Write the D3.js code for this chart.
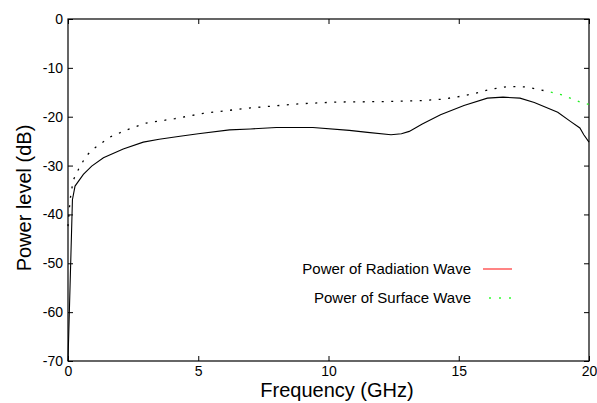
<!DOCTYPE html>
<html><head><meta charset="utf-8">
<script src="https://cdn.jsdelivr.net/npm/d3@7"></script>
<style>body{margin:0;background:#fff}svg{display:block}text{font-family:"Liberation Sans",Arial,sans-serif;fill:#000}</style>
</head><body><svg id="c" width="597" height="403"></svg>
<script>
const xTicks = [0, 5, 10, 15, 20];
const yTicks = [0, -10, -20, -30, -40, -50, -60, -70];
const radFreq = [0, 0.17, 0.27, 0.59, 0.91, 1.36, 2.12, 2.89, 3.5, 4.3, 5, 6.2, 7, 8, 9.4, 10.8, 11.5, 12.4, 12.8, 13.1, 13.6, 14.3, 15.2, 16.1, 16.7, 17.35, 17.9, 18.8, 19.3, 19.65, 19.8, 20];
const radPower = [-70, -37, -34.2, -31.8, -30.1, -28.4, -26.6, -25.2, -24.6, -24.0, -23.5, -22.7, -22.5, -22.2, -22.2, -22.8, -23.2, -23.7, -23.5, -23.0, -21.5, -19.6, -17.7, -16.2, -16.0, -16.2, -17.1, -19.1, -21.0, -22.3, -23.7, -25.2];
const surfFreq = [0, 0.08, 0.2, 0.4, 0.7, 1.0, 1.6, 2.25, 3.0, 4.1, 5.2, 7.0, 8.9, 10.3, 12.1, 13.6, 14.4, 15.1, 15.8, 16.2, 16.9, 17.6, 18.4, 19.0, 19.7, 20];
const surfPower = [-42.4, -37, -33, -30.8, -28, -26.5, -24.2, -22.7, -21.3, -20.4, -19.3, -18.2, -17.35, -17.0, -16.9, -16.7, -16.4, -15.8, -15.0, -14.4, -13.8, -13.9, -14.8, -15.6, -17.1, -17.5];
const legendLabels = ["Power of Radiation Wave", "Power of Surface Wave"];

const svg = d3.select("#c");
const L = 68, R = 589, T = 19, B = 361;
const x = d3.scaleLinear().domain([0, 20]).range([L, R]);
const y = d3.scaleLinear().domain([-70, 0]).range([B, T]);

// frame
svg.append("rect").attr("x", L).attr("y", T).attr("width", R - L).attr("height", B - T)
  .attr("fill", "none").attr("stroke", "#000").attr("stroke-width", 1.2);

// axes (inward ticks)
const fs = "14px";
const fmt = d => String(d);
const ax = svg.append("g").attr("transform", `translate(0,${B})`)
  .call(d3.axisBottom(x).tickValues(xTicks).tickSize(-5).tickPadding(5).tickFormat(fmt));
const axT = svg.append("g").attr("transform", `translate(0,${T})`)
  .call(d3.axisTop(x).tickValues(xTicks).tickSize(-5).tickFormat(""));
const ay = svg.append("g").attr("transform", `translate(${L},0)`)
  .call(d3.axisLeft(y).tickValues(yTicks).tickSize(-5).tickPadding(5).tickFormat(fmt));
const ayR = svg.append("g").attr("transform", `translate(${R},0)`)
  .call(d3.axisRight(y).tickValues(yTicks).tickSize(-5).tickFormat(""));
[ax, axT, ay, ayR].forEach(g => {
  g.select(".domain").remove();
  g.selectAll("line").attr("stroke", "#000");
  g.selectAll("text").attr("font-size", fs).attr("font-family", "Liberation Sans, Arial, sans-serif");
});

// lines
const line = d3.line().x(d => x(d[0])).y(d => y(d[1]));
const rad = radFreq.map((f, i) => [f, radPower[i]]);
const surf = surfFreq.map((f, i) => [f, surfPower[i]]);

svg.append("clipPath").attr("id", "cg").append("rect")
  .attr("x", x(18.5)).attr("y", 0).attr("width", 600).attr("height", 403);
svg.append("clipPath").attr("id", "ck").append("rect")
  .attr("x", 0).attr("y", 0).attr("width", x(18.5)).attr("height", 403);

svg.append("path").datum(surf).attr("d", line).attr("fill", "none")
  .attr("stroke", "#22ee22").attr("stroke-width", 1.3).attr("stroke-dasharray", "2,7.5")
  .attr("clip-path", "url(#cg)");
svg.append("path").datum(surf).attr("d", line).attr("fill", "none")
  .attr("stroke", "#000").attr("stroke-width", 1.3).attr("stroke-dasharray", "2,7.5")
  .attr("clip-path", "url(#ck)");
svg.append("path").datum(rad).attr("d", line).attr("fill", "none")
  .attr("stroke", "#000").attr("stroke-width", 1.1);

// legend
const lg = svg.append("g");
lg.append("text").attr("x", 471).attr("y", 268).attr("text-anchor", "end")
  .attr("dominant-baseline", "central").attr("font-size", "15px").text(legendLabels[0]);
lg.append("line").attr("x1", 483).attr("x2", 512).attr("y1", 269).attr("y2", 269)
  .attr("stroke", "#ff3333").attr("stroke-width", 1.2);
lg.append("text").attr("x", 471).attr("y", 297).attr("text-anchor", "end")
  .attr("dominant-baseline", "central").attr("font-size", "15px").text(legendLabels[1]);
lg.append("line").attr("x1", 489).attr("x2", 512).attr("y1", 298).attr("y2", 298)
  .attr("stroke", "#33ff33").attr("stroke-width", 1.5).attr("stroke-dasharray", "2,8");

// titles
svg.append("text").attr("x", 337).attr("y", 397).attr("text-anchor", "middle")
  .attr("font-size", "20px").text("Frequency (GHz)");
svg.append("text").attr("transform", "translate(31,198) rotate(-90)").attr("text-anchor", "middle")
  .attr("font-size", "20px").text("Power level (dB)");
</script></body></html>
